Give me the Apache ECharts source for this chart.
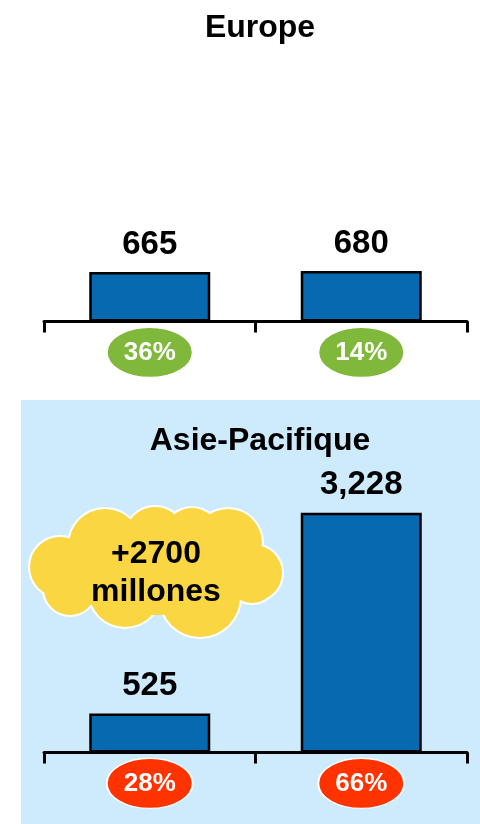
<!DOCTYPE html>
<html>
<head>
<meta charset="utf-8">
<script src="https://cdn.jsdelivr.net/npm/echarts@6/dist/echarts.min.js"></script>
<style>
  html, body { margin: 0; padding: 0; background: #fff; }
  #chart { width: 480px; height: 824px; }
</style>
</head>
<body>
<div id="chart"></div>
<script>
// data
const categories = ['A', 'B'];
const europeValues = [665, 680];
const europeShares = ['36%', '14%'];
const asiaValues = [525, 3228];
const asiaShares = ['28%', '66%'];
const cloudText = ['+2700', 'millones'];

const FONT = '"Liberation Sans", Arial, sans-serif';
const BAR_COLOR = '#0769b0';
const GREEN = '#7fb83a';
const RED = '#ff3300';
const PANEL = '#cdebfd';
const Y_MIN = -800, Y_MAX = 3600;
const BADGE_Y = -415; // where the % ovals sit, under the axis line

const chart = echarts.init(document.getElementById('chart'));

function makeX(gridIndex) {
  return {
    type: 'category', gridIndex: gridIndex, data: categories,
    axisLine: { onZero: true, lineStyle: { color: '#000', width: 3 } },
    axisTick: { show: true, length: 11, lineStyle: { color: '#000', width: 3 } },
    axisLabel: { show: false },
    splitLine: { show: false }
  };
}
function makeY(gridIndex) {
  return {
    type: 'value', gridIndex: gridIndex, min: Y_MIN, max: Y_MAX,
    axisLine: { show: false }, axisTick: { show: false },
    axisLabel: { show: false }, splitLine: { show: false }
  };
}
function barSeries(idx, values) {
  return {
    type: 'bar', xAxisIndex: idx, yAxisIndex: idx, data: values,
    barWidth: 121, z: 3,
    itemStyle: { color: BAR_COLOR, borderColor: '#000', borderWidth: 2.5 },
    label: {
      show: true, position: 'top', distance: 11,
      formatter: (p) => p.value.toLocaleString('en-US'),
      color: '#000', fontSize: 33, fontWeight: 'bold', fontFamily: FONT
    }
  };
}
function badgeSeries(idx, shares, color) {
  return {
    type: 'scatter', xAxisIndex: idx, yAxisIndex: idx, z: 5,
    symbol: 'circle', symbolSize: [86, 50], silent: true,
    data: shares.map((s, i) => ({ value: [i, BADGE_Y], name: s })),
    itemStyle: { color: color, borderColor: '#fff', borderWidth: 1.5, opacity: 1 },
    label: {
      show: true, position: 'inside', formatter: (p) => p.name,
      color: '#fff', fontSize: 26, fontWeight: 'bold', fontFamily: FONT
    }
  };
}

// cloud made of overlapping bumps: outline pass then fill pass
const bumps = [
  [30, 60, 30], [75, 38, 36], [125, 30, 30], [162, 29, 28], [198, 36, 34],
  [224, 66, 28], [222, 72, 24], [170, 90, 40], [95, 84, 36], [40, 82, 26]
];
const cloudChildren = [];
bumps.forEach(b => cloudChildren.push({
  type: 'circle', shape: { cx: b[0], cy: b[1], r: b[2] },
  style: { fill: '#fff', stroke: '#fff', lineWidth: 4 }
}));
cloudChildren.push({ type: 'ellipse', shape: { cx: 126, cy: 64, rx: 100, ry: 44 }, style: { fill: '#fad643' } });
bumps.forEach(b => cloudChildren.push({
  type: 'circle', shape: { cx: b[0], cy: b[1], r: b[2] },
  style: { fill: '#fad643' }
}));
cloudChildren.push({
  type: 'text', x: 126, y: 66,
  style: {
    text: cloudText.join('\n'), fill: '#000', font: 'bold 32px ' + FONT,
    lineHeight: 38, align: 'center', verticalAlign: 'middle'
  }
});

chart.setOption({
  backgroundColor: '#fff',
  animation: false,
  title: [
    { text: 'Europe', left: 255, top: 7, textAlign: 'center',
      textStyle: { fontSize: 32, fontWeight: 'bold', color: '#000', fontFamily: FONT } },
    { text: 'Asie-Pacifique', left: 255, top: 420, textAlign: 'center',
      textStyle: { fontSize: 32, fontWeight: 'bold', color: '#000', fontFamily: FONT } }
  ],
  graphic: [
    { type: 'rect', left: 21, top: 400, z: -10, silent: true,
      shape: { width: 459, height: 424 }, style: { fill: PANEL } },
    { type: 'group', x: 30, y: 507, z: 10, silent: true, children: cloudChildren }
  ],
  grid: [
    { left: 44, right: 13, top: 54, height: 327 },
    { left: 44, right: 13, top: 485, height: 327 }
  ],
  xAxis: [makeX(0), makeX(1)],
  yAxis: [makeY(0), makeY(1)],
  series: [
    barSeries(0, europeValues),
    badgeSeries(0, europeShares, GREEN),
    barSeries(1, asiaValues),
    badgeSeries(1, asiaShares, RED)
  ]
});
</script>
</body>
</html>
